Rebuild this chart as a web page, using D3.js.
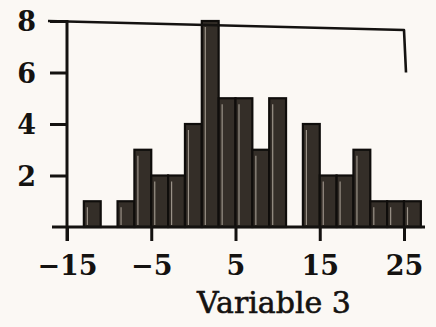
<!DOCTYPE html>
<html>
<head>
<meta charset="utf-8">
<script src="https://cdn.jsdelivr.net/npm/d3@7.9.0/dist/d3.min.js"></script>
<style>
  html, body { margin: 0; padding: 0; background: #fbf8f4; }
  svg { display: block; }
  text { font-family: "DejaVu Serif", "Liberation Serif", serif; font-weight: bold; fill: #141210; }
</style>
</head>
<body>
<div id="chart"></div>
<script>
// histogram bins (left edges) and counts
const binStarts = [-13, -11, -9, -7, -5, -3, -1, 1, 3, 5, 7, 9, 11, 13, 15, 17, 19, 21, 23, 25];
const counts = [1, 0, 1, 3, 2, 2, 4, 8, 5, 5, 3, 5, 0, 4, 2, 2, 3, 1, 1, 1];
const binWidth = 2;
const xTicks = [-15, -5, 5, 15, 25];
const yTicks = [2, 4, 6, 8];
const xLabel = 'Variable 3';

const width = 436, height = 327;
const ink = '#141210';

const svg = d3.select('#chart')
  .append('svg')
  .attr('width', width)
  .attr('height', height);

const x = d3.scaleLinear().domain([-15, 25]).range([67, 404]);
const y = d3.scaleLinear().domain([0, 8]).range([227, 21]);

const bins = binStarts.map((s, i) => ({ x0: s, x1: s + binWidth, n: counts[i] }))
  .filter(d => d.n > 0);

// bars
const bars = svg.append('g').attr('class', 'bars');
bars.selectAll('rect')
  .data(bins)
  .join('rect')
  .attr('x', d => x(d.x0))
  .attr('y', d => y(d.n))
  .attr('width', d => x(d.x1) - x(d.x0))
  .attr('height', d => y(0) - y(d.n))
  .attr('fill', '#342e28')
  .attr('stroke', '#0f0d0b')
  .attr('stroke-width', 2.2);

// light streak inside each bar (printing artefact)
bars.selectAll('line')
  .data(bins)
  .join('line')
  .attr('x1', d => x(d.x0) + 3.5)
  .attr('x2', d => x(d.x0) + 3.5)
  .attr('y1', d => y(d.n) + 6)
  .attr('y2', y(0) - 2)
  .attr('stroke', '#bdb4a8')
  .attr('stroke-width', 1.2)
  .attr('opacity', 0.75);

// frame line across the top (doubles as the 8 tick) and down the right
svg.append('path')
  .attr('d', `M${x(-15) - 19},${y(8)} L${x(25)},${y(8) + 9} L${x(25) + 2},${y(6)}`)
  .attr('fill', 'none')
  .attr('stroke', ink)
  .attr('stroke-width', 2.6)
  .attr('stroke-linejoin', 'round');

// y axis
const yAxis = svg.append('g')
  .attr('transform', `translate(${x(-15)},0)`)
  .call(d3.axisLeft(y).tickValues(yTicks).tickSize(17).tickPadding(14).tickFormat(d3.format('d')));
yAxis.select('.domain').remove();
yAxis.selectAll('.tick line').attr('stroke', ink).attr('stroke-width', 3);
yAxis.selectAll('.tick text').style('font-size', '27px').attr('dy', '0.36em');

svg.append('line')
  .attr('x1', x(-15)).attr('x2', x(-15))
  .attr('y1', y(8) - 1).attr('y2', y(0) + 14)
  .attr('stroke', ink).attr('stroke-width', 3);

// x axis
svg.append('line')
  .attr('x1', 52).attr('x2', 425)
  .attr('y1', y(0)).attr('y2', y(0))
  .attr('stroke', ink).attr('stroke-width', 3);

const xAxis = svg.append('g')
  .attr('transform', `translate(0,${y(0)})`)
  .call(d3.axisBottom(x).tickValues(xTicks).tickSize(14).tickPadding(15)
    .tickFormat(d => d < 0 ? '\u2212' + Math.abs(d) : String(d)));
xAxis.select('.domain').remove();
xAxis.selectAll('.tick line').attr('stroke', ink).attr('stroke-width', 3);
xAxis.selectAll('.tick text').style('font-size', '27px');

svg.append('text')
  .attr('x', 274)
  .attr('y', 313)
  .attr('text-anchor', 'middle')
  .style('font-size', '30px')
  .style('font-weight', 'normal')
  .attr('stroke', ink)
  .attr('stroke-width', 0.6)
  .text(xLabel);
</script>
</body>
</html>
